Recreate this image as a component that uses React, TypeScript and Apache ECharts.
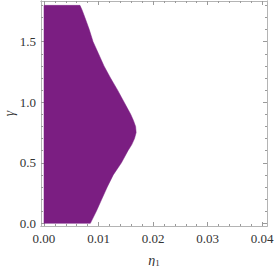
import React, { useEffect, useRef } from "react";
import * as echarts from "echarts";

// Boundary of the filled region: eta_1 (x) reached at each gamma (y)
const gammaValues = [0, 0.1, 0.2, 0.3, 0.4, 0.5, 0.6, 0.65, 0.7, 0.75, 0.8, 0.85, 0.9, 1.0, 1.1, 1.2, 1.3, 1.4, 1.5, 1.6, 1.7, 1.76, 1.8];
const etaValues = [0.0085, 0.0096, 0.0106, 0.0116, 0.0127, 0.0142, 0.0154, 0.0161, 0.0166, 0.0169, 0.0168, 0.0164, 0.0159, 0.0147, 0.0135, 0.0122, 0.011, 0.01, 0.009, 0.0083, 0.0075, 0.007, 0.0066];

const xMajorTicks = [0, 0.01, 0.02, 0.03, 0.04];
const xMinorTicks = [0.002, 0.004, 0.006, 0.008, 0.012, 0.014, 0.016, 0.018, 0.022, 0.024, 0.026, 0.028, 0.032, 0.034, 0.036, 0.038];
const yMajorTicks = [0, 0.5, 1.0, 1.5];
const yMinorTicks = [0.1, 0.2, 0.3, 0.4, 0.6, 0.7, 0.8, 0.9, 1.1, 1.2, 1.3, 1.4, 1.6, 1.7, 1.8];

const X_MIN = -0.00055;
const X_MAX = 0.0409;
const Y_MIN = -0.022;
const Y_MAX = 1.836;

const FRAME = "#b4b4b4";
const TICK = "#9a9a9a";
const FILL = "#7b1e82";
const LABEL_FONT = "Liberation Serif";

function axisCfg(position: string, ticks: number[], len: number, labels: boolean, kind: "x" | "y", extra: any = {}) {
  return {
    type: "value",
    position,
    min: kind === "x" ? X_MIN : Y_MIN,
    max: kind === "x" ? X_MAX : Y_MAX,
    axisLine: { show: true, onZero: false, lineStyle: { color: FRAME, width: 1 } },
    axisTick: { show: true, inside: true, length: len, customValues: ticks, lineStyle: { color: TICK, width: 1 } },
    axisLabel: {
      show: labels,
      customValues: ticks,
      margin: kind === "x" ? 6 : 5,
      fontFamily: LABEL_FONT,
      fontSize: 13,
      color: "#333",
      formatter: (v: number) => (kind === "x" ? v.toFixed(2) : v.toFixed(1)),
    },
    splitLine: { show: false },
    minorTick: { show: false },
    ...extra,
  };
}

export default function App() {
  const ref = useRef<HTMLDivElement>(null);
  useEffect(() => {
    document.body.style.margin = "0";
    if (!ref.current) return;
    const chart = echarts.init(ref.current, null, { renderer: "svg" });
    const points = gammaValues.map((g, i) => [etaValues[i], g]);
    chart.setOption({
      animation: false,
      grid: { left: 41, right: 8, top: 1, bottom: 40, containLabel: false, outerBoundsMode: "none" },
      xAxis: [
        axisCfg("bottom", xMajorTicks, 4, true, "x", {
          name: "{i|η}{s|1}",
          nameLocation: "middle",
          nameGap: 27,
          nameMoveOverlap: false,
          nameTextStyle: {
            rich: {
              i: { fontFamily: LABEL_FONT, fontStyle: "italic", fontSize: 14, color: "#333" },
              s: { fontFamily: LABEL_FONT, fontSize: 9, color: "#333", verticalAlign: "bottom", padding: [5, 0, 0, 0] },
            },
          },
        }),
        axisCfg("bottom", xMinorTicks, 2, false, "x"),
        axisCfg("top", xMajorTicks, 4, false, "x"),
        axisCfg("top", xMinorTicks, 2, false, "x"),
      ],
      yAxis: [
        axisCfg("left", yMajorTicks, 4, true, "y", {
          name: "γ",
          nameLocation: "middle",
          nameGap: 25,
          nameMoveOverlap: false,
          nameTextStyle: { fontFamily: LABEL_FONT, fontStyle: "italic", fontSize: 14, color: "#333" },
        }),
        axisCfg("left", yMinorTicks, 2, false, "y"),
        axisCfg("right", yMajorTicks, 4, false, "y"),
        axisCfg("right", yMinorTicks, 2, false, "y"),
      ],
      series: [
        {
          type: "custom",
          xAxisIndex: 0,
          yAxisIndex: 0,
          clip: true,
          data: points,
          renderItem: (params: any, api: any) => {
            if (params.dataIndex !== 0) return null;
            const poly: number[][] = [];
            poly.push(api.coord([0, gammaValues[0]]));
            for (let i = 0; i < gammaValues.length; i++) {
              poly.push(api.coord([etaValues[i], gammaValues[i]]));
            }
            poly.push(api.coord([0, gammaValues[gammaValues.length - 1]]));
            return {
              type: "polygon",
              shape: { points: poly },
              style: { fill: FILL, stroke: FILL, lineWidth: 0.5 },
            };
          },
        },
      ],
    });
    return () => chart.dispose();
  }, []);
  return <div ref={ref} style={{ width: 275, height: 266 }} />;
}
